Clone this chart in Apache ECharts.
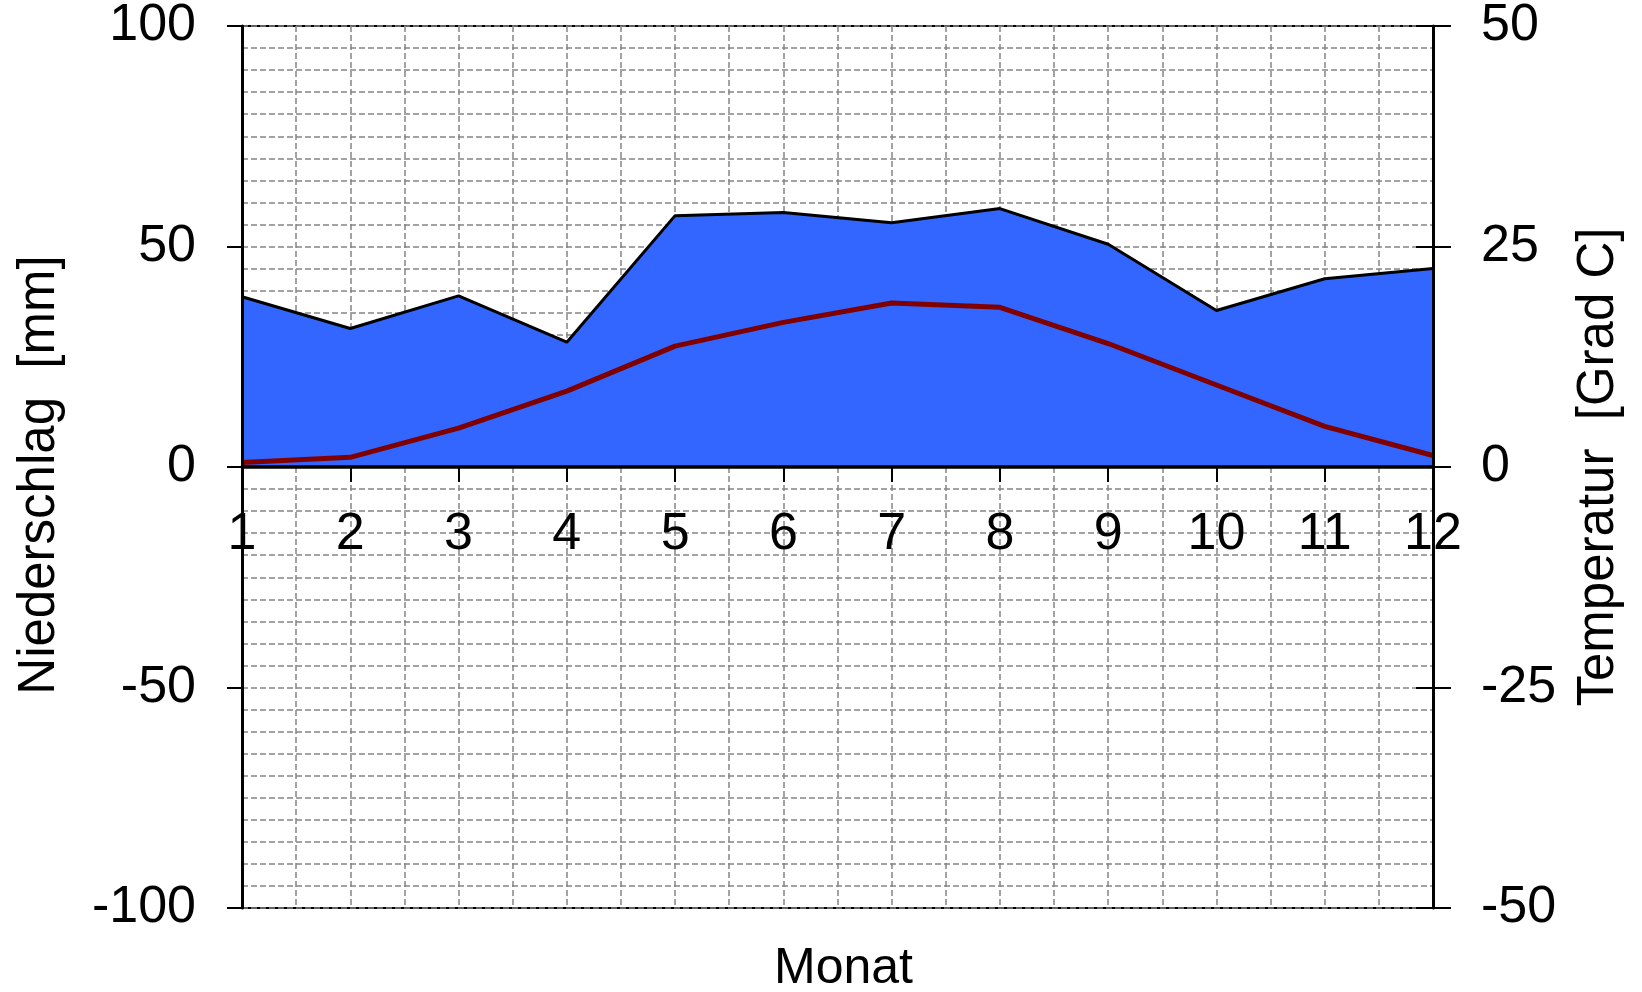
<!DOCTYPE html>
<html>
<head>
<meta charset="utf-8">
<title>Klimadiagramm</title>
<script src="https://cdn.jsdelivr.net/npm/echarts@6/dist/echarts.min.js"></script>
<style>
  html, body { margin: 0; padding: 0; background: #ffffff; }
  #chart { width: 1642px; height: 992px; }
</style>
</head>
<body>
<div id="chart"></div>
<script>
// Monthly climate values
const months = [1, 2, 3, 4, 5, 6, 7, 8, 9, 10, 11, 12];
const precipitation = [38.6, 31.4, 38.8, 28.3, 57.0, 57.7, 55.4, 58.6, 50.5, 35.5, 42.7, 45.0]; // mm
const temperature = [0.5, 1.1, 4.4, 8.6, 13.7, 16.4, 18.6, 18.1, 14.0, 9.3, 4.6, 1.3];         // Grad C

// Axis ranges (left: precipitation, right: temperature)
const precipAxis = { min: -100, max: 100, interval: 50 };
const tempAxis = { min: -50, max: 50, interval: 25 };
const monthAxis = { min: 1, max: 12, interval: 1 };

const FONT = '"Liberation Sans", Arial, Helvetica, sans-serif';
const gridDash = { color: '#858585', width: 1.5, type: [6, 3] };
const black = '#000000';

// Plot area
const GRID = { left: 242, right: 209, top: 26, bottom: 84 };
const plotHeight = 992 - GRID.top - GRID.bottom;
// the month axis sits on the 0 mm line, halfway up the symmetric precipitation range
const zeroLineOffset = -plotHeight * (0 - precipAxis.min) / (precipAxis.max - precipAxis.min);

const precipData = months.map((m, i) => [m, precipitation[i]]);
const tempData = months.map((m, i) => [m, temperature[i]]);

const chart = echarts.init(document.getElementById('chart'), null, { renderer: 'canvas' });

chart.setOption({
  animation: false,
  backgroundColor: '#ffffff',
  grid: {
    ...GRID,
    show: true, borderColor: black, borderWidth: 2, backgroundColor: 'transparent',
    outerBoundsMode: 'none'
  },
  xAxis: [
    { // dashed grid (below the area)
      type: 'value', ...monthAxis, position: 'bottom', z: 0,
      axisLine: { show: false, onZero: false },
      axisTick: { show: false },
      axisLabel: { show: false },
      splitLine: { show: true, lineStyle: gridDash },
      minorTick: { show: false, splitNumber: 2 },
      minorSplitLine: { show: true, lineStyle: gridDash },
      name: 'Monat', nameLocation: 'middle', nameGap: 36,
      nameTextStyle: { fontFamily: FONT, fontSize: 50, color: black, padding: [0, 0, 0, 12] }
    },
    { // zero line with month ticks and labels (above the area)
      type: 'value', ...monthAxis, position: 'bottom', offset: zeroLineOffset, z: 10,
      axisLine: { show: true, onZero: false, lineStyle: { color: black, width: 3.5 } },
      axisTick: { show: true, length: 15, lineStyle: { color: black, width: 2 } },
      axisLabel: { show: true, margin: 42, fontFamily: FONT, fontSize: 52, color: black },
      splitLine: { show: false }
    }
  ],
  yAxis: [
    { // precipitation scale, dashed grid
      type: 'value', ...precipAxis, position: 'left', z: 0,
      axisLine: { show: false, onZero: false },
      axisTick: { show: false },
      axisLabel: { show: false },
      splitLine: { show: true, lineStyle: gridDash },
      minorTick: { show: false, splitNumber: 10 },
      minorSplitLine: { show: true, lineStyle: gridDash }
    },
    { // temperature scale (right)
      type: 'value', ...tempAxis, position: 'right', z: 10,
      axisLine: { show: true, onZero: false, lineStyle: { color: black, width: 3 } },
      axisTick: { show: true, inside: false, length: 18, lineStyle: { color: black, width: 2 } },
      axisLabel: { show: true, margin: 48, fontFamily: FONT, fontSize: 52, color: black },
      splitLine: { show: false },
      name: 'Temperatur  [Grad C]', nameLocation: 'middle', nameGap: 140, nameRotate: 90,
      nameTextStyle: { fontFamily: FONT, fontSize: 51, color: black }
    },
    { // precipitation axis line, ticks and labels (left)
      type: 'value', ...precipAxis, position: 'left', z: 10,
      axisLine: { show: true, onZero: false, lineStyle: { color: black, width: 3 } },
      axisTick: { show: true, inside: false, length: 15, lineStyle: { color: black, width: 2 } },
      axisLabel: { show: true, margin: 46, fontFamily: FONT, fontSize: 52, color: black },
      splitLine: { show: false },
      name: 'Niederschlag  [mm]', nameLocation: 'middle', nameGap: 177, nameRotate: 90,
      nameTextStyle: { fontFamily: FONT, fontSize: 51, color: black, padding: [0, 16, 0, 0] }
    },
    { // inner half of the temperature ticks
      type: 'value', ...tempAxis, position: 'right', z: 10,
      axisLine: { show: false, onZero: false },
      axisTick: { show: true, inside: true, length: 17, lineStyle: { color: black, width: 2 } },
      axisLabel: { show: false },
      splitLine: { show: false }
    }
  ],
  series: [
    {
      name: 'Niederschlag',
      type: 'line',
      xAxisIndex: 0, yAxisIndex: 0,
      data: precipData,
      showSymbol: false,
      z: 2,
      lineStyle: { color: black, width: 3 },
      areaStyle: { color: '#3366ff', opacity: 1, origin: 0 }
    },
    {
      name: 'Temperatur',
      type: 'line',
      xAxisIndex: 0, yAxisIndex: 1,
      data: tempData,
      showSymbol: false,
      z: 3,
      lineStyle: { color: '#800000', width: 5 }
    }
  ]
});
</script>
</body>
</html>
